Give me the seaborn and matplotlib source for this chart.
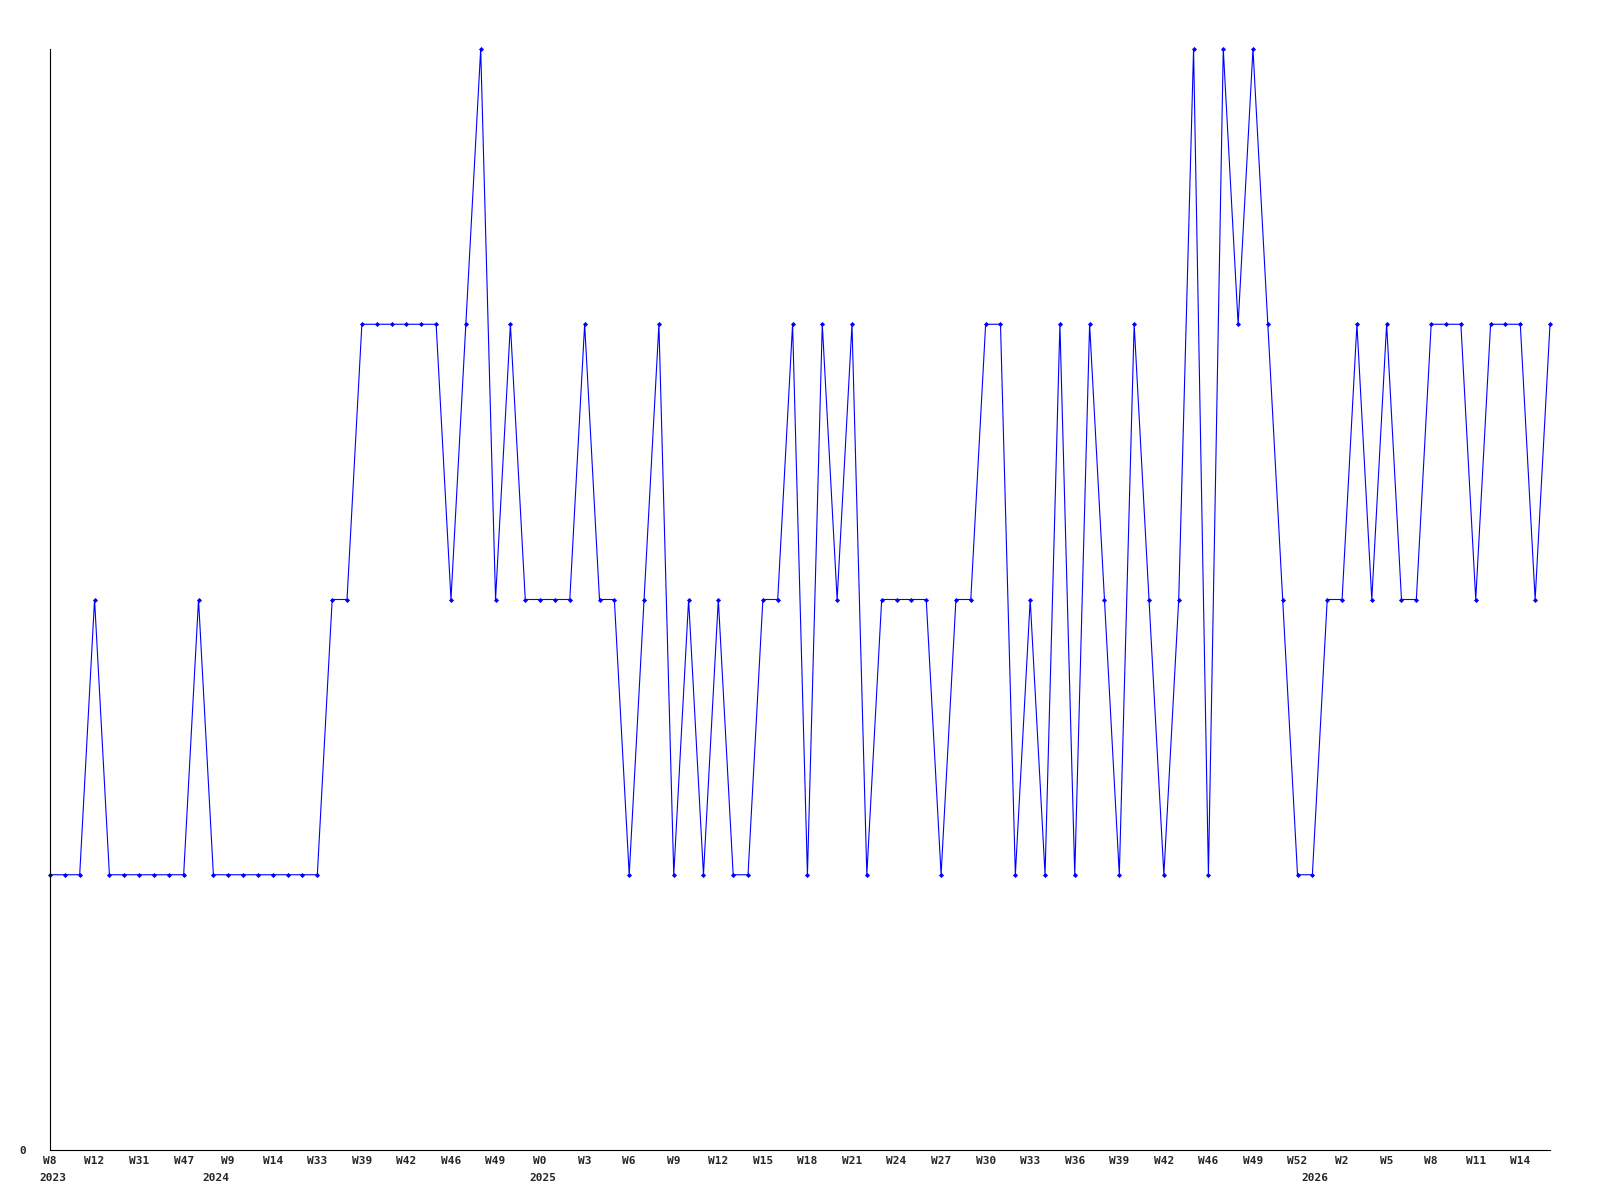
import numpy as np
import pandas as pd
import matplotlib as mpl
import matplotlib.pyplot as plt
import seaborn as sns

# weekly values, one per point (102 points)
values = [1, 1, 1, 2, 1, 1, 1, 1, 1, 1, 2, 1, 1, 1, 1, 1, 1, 1, 1, 2,
          2, 3, 3, 3, 3, 3, 3, 2, 3, 4, 2, 3, 2, 2, 2, 2, 3, 2, 2, 1,
          2, 3, 1, 2, 1, 2, 1, 1, 2, 2, 3, 1, 3, 2, 3, 1, 2, 2, 2, 2,
          1, 2, 2, 3, 3, 1, 2, 1, 3, 1, 3, 2, 1, 3, 2, 1, 2, 4, 1, 4,
          3, 4, 3, 2, 1, 1, 2, 2, 3, 2, 3, 2, 2, 3, 3, 3, 2, 3, 3, 3,
          2, 3]
# a week label on every third point
week_labels = ["W8", "W12", "W31", "W47", "W9", "W14", "W33", "W39", "W42", "W46",
               "W49", "W0", "W3", "W6", "W9", "W12", "W15", "W18", "W21", "W24",
               "W27", "W30", "W33", "W36", "W39", "W42", "W46", "W49", "W52", "W2",
               "W5", "W8", "W11", "W14"]
# first point of each year
year_labels = ["2023", "2024", "2025", "2026"]
year_index = [0, 11, 33, 85]

df = pd.DataFrame({"idx": np.arange(len(values)), "val": values})

sns.set_style("white")
mpl.rcParams["font.family"] = ["DejaVu Sans Mono"]
mpl.rcParams["font.weight"] = "bold"

fig = plt.figure(figsize=(16, 12), dpi=100)
ax = fig.add_axes([50/1600, 1 - 1150/1200, 1500/1600, 1101/1200])

sns.lineplot(data=df, x="idx", y="val", color="#0000FF", lw=0.8,
             marker="D", markersize=2.6, markeredgewidth=0, clip_on=False, ax=ax)

ax.set_xlim(0, len(values) - 1)
ax.set_ylim(0, 4)
ax.set_xticks(np.arange(0, len(values), 3))
ax.set_xticklabels(week_labels, fontsize=8, fontweight="bold")
ax.set_yticks([0])
ax.set_yticklabels(["0"], fontsize=8, fontweight="bold")
ax.tick_params(axis="x", length=0, pad=4)
ax.tick_params(axis="y", length=0, pad=17)
for lab, i in zip(year_labels, year_index):
    ax.annotate(lab, xy=(i, 0), xycoords=("data", "axes fraction"),
                xytext=(2, -20), textcoords="offset points",
                ha="center", va="center", fontsize=8, fontweight="bold")

ax.set_xlabel(None); ax.set_ylabel(None)
for s in ["top", "right"]:
    ax.spines[s].set_visible(False)
for s in ["left", "bottom"]:
    ax.spines[s].set_color("black"); ax.spines[s].set_linewidth(0.8)

fig.savefig("out.png", dpi=100)
